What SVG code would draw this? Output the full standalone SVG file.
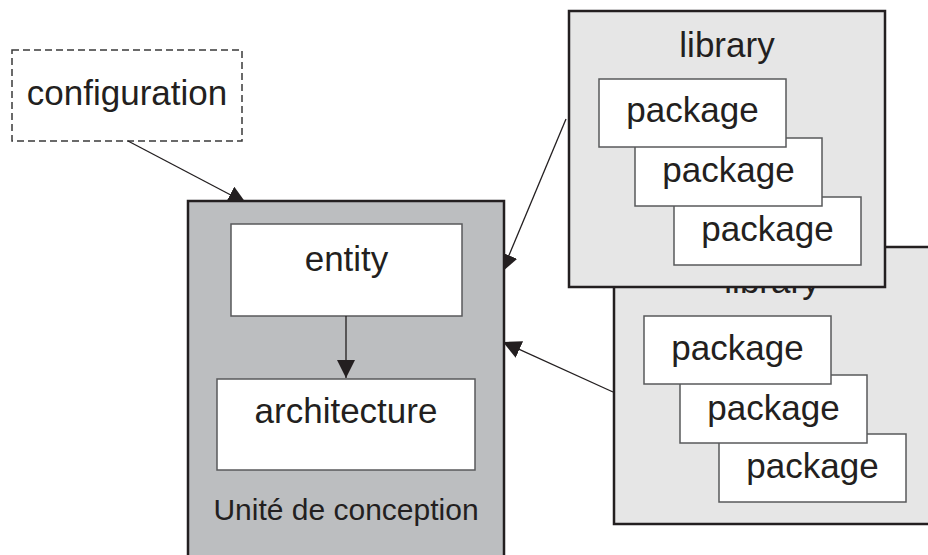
<svg xmlns="http://www.w3.org/2000/svg" width="928" height="555" viewBox="0 0 928 555">
  <style>
    text { font-family: "Liberation Sans", Arial, Helvetica, sans-serif; fill: #231f20; text-anchor: middle; }
    .lbl { font-size: 35px; }
    .small { font-size: 30px; }
    .unit { fill: #bcbec0; stroke: #231f20; stroke-width: 2.5; }
    .lib { fill: #e6e6e6; stroke: #231f20; stroke-width: 2.5; }
    .box { fill: #ffffff; stroke: #58595b; stroke-width: 1.5; }
    .cfg { fill: #ffffff; stroke: #3a3a3a; stroke-width: 1.5; stroke-dasharray: 7 4; }
    .conn { stroke: #231f20; stroke-width: 1.3; fill: none; marker-end: url(#arrow); }
  </style>
  <defs>
    <marker id="arrow" markerUnits="userSpaceOnUse" markerWidth="18" markerHeight="18" refX="18" refY="9" orient="auto">
      <path d="M0,0 L18,9 L0,18 Z" fill="#231f20"/>
    </marker>
    <!-- everything except the interior of the design unit -->
    <clipPath id="outsideUnit">
      <path clip-rule="evenodd" d="M0,0 H928 V555 H0 Z M188,201 H504 V600 H188 Z"/>
    </clipPath>
  </defs>

  <!-- configuration -->
  <g id="configuration">
    <rect class="cfg" x="12" y="50" width="230" height="91"/>
    <text class="lbl" x="127" y="105">configuration</text>
  </g>

  <!-- design unit -->
  <g id="unite">
    <rect class="unit" x="188" y="201" width="316" height="370"/>
    <text class="small" x="346" y="520">Unité de conception</text>
  </g>

  <g id="entity">
    <rect class="box" x="231" y="224" width="231" height="92"/>
    <text class="lbl" x="346.5" y="271">entity</text>
  </g>

  <g id="architecture">
    <rect class="box" x="217" y="379" width="258" height="91"/>
    <text class="lbl" x="346" y="423">architecture</text>
  </g>

  <!-- second library (behind) -->
  <g id="library2">
    <rect class="lib" x="614" y="247" width="316" height="277"/>
    <text class="lbl" x="772" y="293">library</text>
    <g id="library2-package3">
      <rect class="box" x="719" y="434" width="187" height="68"/>
      <text class="lbl" x="812.5" y="478">package</text>
    </g>
    <g id="library2-package2">
      <rect class="box" x="680" y="375" width="187" height="68"/>
      <text class="lbl" x="773.5" y="420">package</text>
    </g>
    <g id="library2-package1">
      <rect class="box" x="644" y="316" width="187" height="68"/>
      <text class="lbl" x="737.5" y="360">package</text>
    </g>
  </g>

  <!-- first library (front) -->
  <g id="library1">
    <rect class="lib" x="569" y="11" width="316" height="276"/>
    <text class="lbl" x="727" y="57">library</text>
    <g id="library1-package3">
      <rect class="box" x="674" y="197" width="187" height="68"/>
      <text class="lbl" x="767.5" y="241">package</text>
    </g>
    <g id="library1-package2">
      <rect class="box" x="635" y="138" width="187" height="68"/>
      <text class="lbl" x="728.5" y="182">package</text>
    </g>
    <g id="library1-package1">
      <rect class="box" x="599" y="79" width="187" height="68"/>
      <text class="lbl" x="692.5" y="122">package</text>
    </g>
  </g>

  <!-- connectors -->
  <g id="connectors">
    <g clip-path="url(#outsideUnit)">
      <line class="conn" x1="128" y1="141" x2="246" y2="203"/>
      <line class="conn" x1="566" y1="119" x2="502" y2="272"/>
      <line class="conn" x1="613" y1="392" x2="503" y2="342"/>
    </g>
    <line class="conn" x1="346" y1="316" x2="346" y2="378"/>
  </g>
</svg>
